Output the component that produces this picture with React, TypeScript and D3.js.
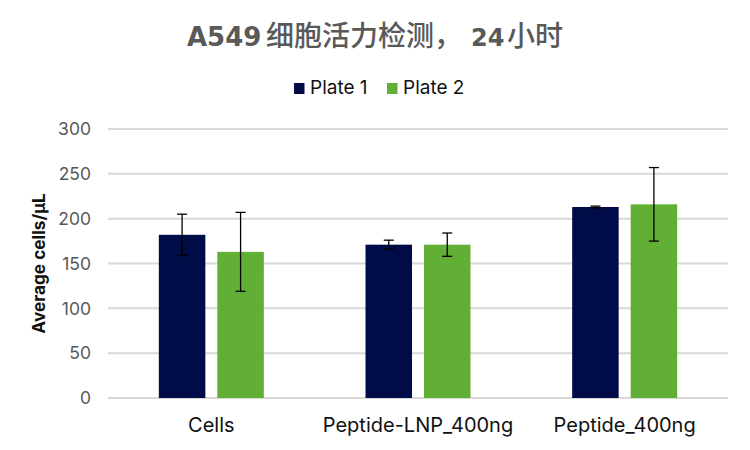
import React from "react";
import * as d3 from "d3";

const categories = ["Cells", "Peptide-LNP_400ng", "Peptide_400ng"];
const seriesNames = ["Plate 1", "Plate 2"];
const plate1Values = [182, 171, 213];
const plate1Errors = [23, 5, 1];
const plate2Values = [163, 171, 216];
const plate2Errors = [44, 13, 41];
const yTicks = [0, 50, 100, 150, 200, 250, 300];
const colors = ["#000C47", "#62AF36"];

const W = 750;
const H = 450;
const margin = { left: 108, right: 22, top: 129, bottom: 52 };

export default function App() {
  const x = d3
    .scaleBand<string>()
    .domain(categories)
    .range([margin.left, W - margin.right])
    .padding(0);
  const y = d3
    .scaleLinear()
    .domain([0, 300])
    .range([H - margin.bottom, margin.top]);
  const groupW = x.bandwidth() * 0.508;
  const xSub = d3
    .scaleBand<string>()
    .domain(seriesNames)
    .range([0, groupW])
    .paddingInner(0.205);

  const series = [
    { name: seriesNames[0], values: plate1Values, errors: plate1Errors, color: colors[0] },
    { name: seriesNames[1], values: plate2Values, errors: plate2Errors, color: colors[1] },
  ];
  const font = "Inter, 'Noto Sans', sans-serif";
  const latinBold = "'DejaVu Sans', Inter, sans-serif";
  const cjk = "'Noto Sans CJK SC', sans-serif";

  return (
    <svg
      width={W}
      height={H}
      style={{ position: "absolute", left: 0, top: 0, background: "#fff" }}
      fontFamily={font}
    >
      <g fill="#595959">
        <text x={187} y={46} fontSize={26} fontWeight={700} fontFamily={latinBold}>
          A549
        </text>
        <text x={266} y={46} fontSize={28} fontWeight={500} fontFamily={cjk}>
          细胞活力检测，
        </text>
        <text x={471} y={46} fontSize={24} fontWeight={700} fontFamily={latinBold}>
          24
        </text>
        <text x={507} y={46} fontSize={28} fontWeight={500} fontFamily={cjk}>
          小时
        </text>
      </g>

      {/* legend */}
      {series.map((s, i) => {
        const lx = i === 0 ? 294 : 387;
        return (
          <g key={s.name}>
            <rect x={lx} y={83} width={10.5} height={11} fill={s.color} />
            <text x={lx + 16} y={94} fontSize={19} fill="#111">
              {s.name}
            </text>
          </g>
        );
      })}

      {/* gridlines */}
      {yTicks.map((t) => (
        <g key={t}>
          <line
            x1={margin.left}
            x2={W - margin.right}
            y1={y(t)}
            y2={y(t)}
            stroke="#D9D9D9"
            strokeWidth={2}
          />
          <text
            x={91}
            y={y(t)}
            dy="0.36em"
            textAnchor="end"
            fontSize={17.5}
            fill="#595959"
          >
            {t}
          </text>
        </g>
      ))}

      {/* bars */}
      {categories.map((c, ci) => {
        const gx = (x(c) as number) + x.bandwidth() / 2 - groupW / 2;
        return (
          <g key={c}>
            {series.map((s) => {
              const bx = gx + (xSub(s.name) as number);
              const bw = xSub.bandwidth();
              const v = s.values[ci];
              const e = s.errors[ci];
              const cx = bx + bw / 2;
              return (
                <g key={s.name}>
                  <rect
                    x={bx}
                    y={y(v)}
                    width={bw}
                    height={y(0) - y(v)}
                    fill={s.color}
                  />
                  <line x1={cx} x2={cx} y1={y(v + e)} y2={y(v - e)} stroke="#000" strokeWidth={1.3} />
                  <line x1={cx - 5} x2={cx + 5} y1={y(v + e)} y2={y(v + e)} stroke="#000" strokeWidth={1.3} />
                  <line x1={cx - 5} x2={cx + 5} y1={y(v - e)} y2={y(v - e)} stroke="#000" strokeWidth={1.3} />
                </g>
              );
            })}
            <text
              x={(x(c) as number) + x.bandwidth() / 2}
              y={432}
              textAnchor="middle"
              fontSize={20}
              fill="#111"
            >
              {c}
            </text>
          </g>
        );
      })}

      {/* y axis title */}
      <text
        transform={`translate(45, ${(y(0) + y(300)) / 2}) rotate(-90)`}
        textAnchor="middle"
        fontSize={17.2}
        fontWeight={700}
        fill="#111"
      >
        Average cells/μL
      </text>
    </svg>
  );
}
